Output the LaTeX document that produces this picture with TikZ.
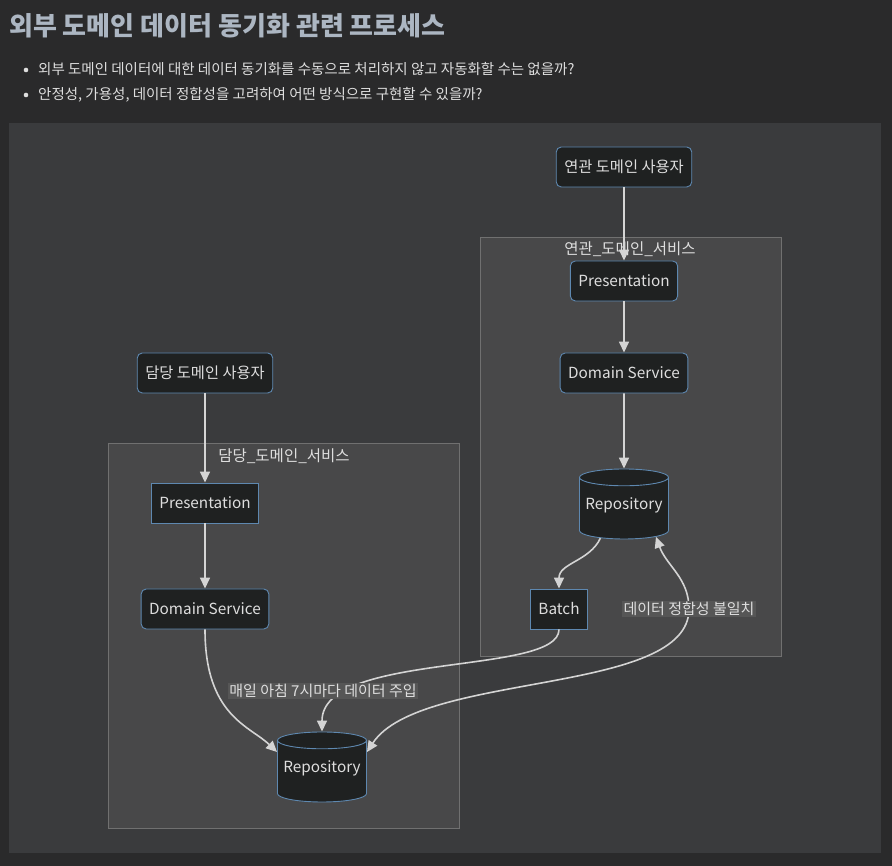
\documentclass[tikz,border=0pt]{standalone}
\usepackage{fontspec}
\setmainfont{Noto Sans CJK KR}
\usepackage{xcolor}
\definecolor{page-bg}{RGB}{42,42,43}
\definecolor{panel-bg}{RGB}{58,59,61}
\definecolor{group-bg}{RGB}{72,72,73}
\definecolor{group-line}{RGB}{112,112,112}
\definecolor{box-fill}{RGB}{31,33,33}
\definecolor{box-line}{RGB}{94,136,176}
\definecolor{link-line}{RGB}{212,212,212}
\definecolor{label-bg}{RGB}{86,86,86}
\definecolor{text-light}{RGB}{222,222,222}
\definecolor{title-text}{RGB}{172,182,194}
\usetikzlibrary{arrows.meta,shapes.geometric}
\tikzset{
  group/.style={
    draw=group-line,
    fill=group-bg,
    line width=0.8pt
  },
  group-title/.style={
    text=text-light,
    font=\fontsize{15.5}{19}\selectfont
  },
  box/.style={
    draw=box-line,
    fill=box-fill,
    text=text-light,
    line width=0.9pt,
    rounded corners=5pt,
    minimum height=40pt,
    inner xsep=8pt,
    font=\fontsize{15.3}{19}\selectfont
  },
  box-sharp/.style={
    box,
    sharp corners
  },
  store/.style={
    cylinder,
    shape border rotate=90,
    aspect=0.2,
    anchor=shape center,
    draw=box-line,
    fill=box-fill,
    text=text-light,
    line width=0.9pt,
    minimum width=89pt,
    minimum height=70pt,
    text height=11pt,
    text depth=13pt,
    font=\fontsize{15.3}{19}\selectfont
  },
  link/.style={
    draw=link-line,
    line width=1.6pt,
    ->,
    >={Triangle[length=11pt,width=10pt]}
  },
  link-label/.style={
    fill=label-bg,
    text=text-light,
    inner sep=1.5pt,
    font=\fontsize{15}{18}\selectfont
  },
}

\begin{document}
\begin{tikzpicture}[x=1pt,y=1pt]

  \def\W{892}
  \def\H{866}

  % page
  \fill[page-bg] (0,0) rectangle (\W,\H);
  \useasboundingbox (0,0) rectangle (\W,\H);

  % heading and questions
  \node[anchor=base west, text=title-text, inner sep=0pt, font=\fontsize{26}{30}\selectfont\bfseries] (heading) at (9,830) {외부 도메인 데이터 동기화 관련 프로세스};
  \fill[text-light] (26,796) circle (2.3);
  \node[anchor=base west, text=text-light, inner sep=0pt, font=\fontsize{14.5}{17}\selectfont] (askone) at (38,791) {외부 도메인 데이터에 대한 데이터 동기화를 수동으로 처리하지 않고 자동화할 수는 없을까?};
  \fill[text-light] (26,771) circle (2.3);
  \node[anchor=base west, text=text-light, inner sep=0pt, font=\fontsize{14.5}{17}\selectfont] (asktwo) at (38,766) {안정성, 가용성, 데이터 정합성을 고려하여 어떤 방식으로 구현할 수 있을까?};

  % panel
  \fill[panel-bg] (9,13) rectangle (881,743);

  % service groups
  \draw[group] (480,210) rectangle (781,629);
  \node[group-title] (relgroup) at (630,617) {연관\_도메인\_서비스};
  \draw[group] (108,38) rectangle (459,423);
  \node[group-title] (owngroup) at (284,410) {담당\_도메인\_서비스};

  % related domain
  \node[box] (reluser) at (624,699) {연관 도메인 사용자};
  \node[box] (relpres) at (624,585) {Presentation};
  \node[box] (relsvc) at (624,493) {Domain Service};
  \node[store] (relrepo) at (624,362) {Repository};
  \node[box-sharp] (batch) at (559,257) {Batch};

  % owning domain
  \node[box] (ownuser) at (205,493) {담당 도메인 사용자};
  \node[box-sharp] (ownpres) at (205,363) {Presentation};
  \node[box] (ownsvc) at (205,257) {Domain Service};
  \node[store] (ownrepo) at (322,99) {Repository};

  % links
  \draw[link] (reluser) -- (relpres);
  \draw[link] (relpres) -- (relsvc);
  \draw[link] (relsvc) -- (relrepo);
  \draw[link] (relrepo.-130) to[out=-115,in=90] (batch.north);
  \draw[link] (ownuser) -- (ownpres);
  \draw[link] (ownpres) -- (ownsvc);
  \draw[link] (ownsvc.south) .. controls (205,150) and (250,140) .. (ownrepo.155);
  \draw[link] (batch.south) .. controls (559,190) and (322,215) .. (ownrepo.north);
  \coordinate (mismatch) at (689,257);
  \draw[link, <->] (ownrepo.25) .. controls (420,195) and (689,170) .. (mismatch) to[out=90,in=-70] (relrepo.-40);

  % link labels
  \node[link-label] (feedlabel) at (323,175) {매일 아침 7시마다 데이터 주입};
  \node[link-label] (mismatchlabel) at (mismatch) {데이터 정합성 불일치};

\end{tikzpicture}
\end{document}
